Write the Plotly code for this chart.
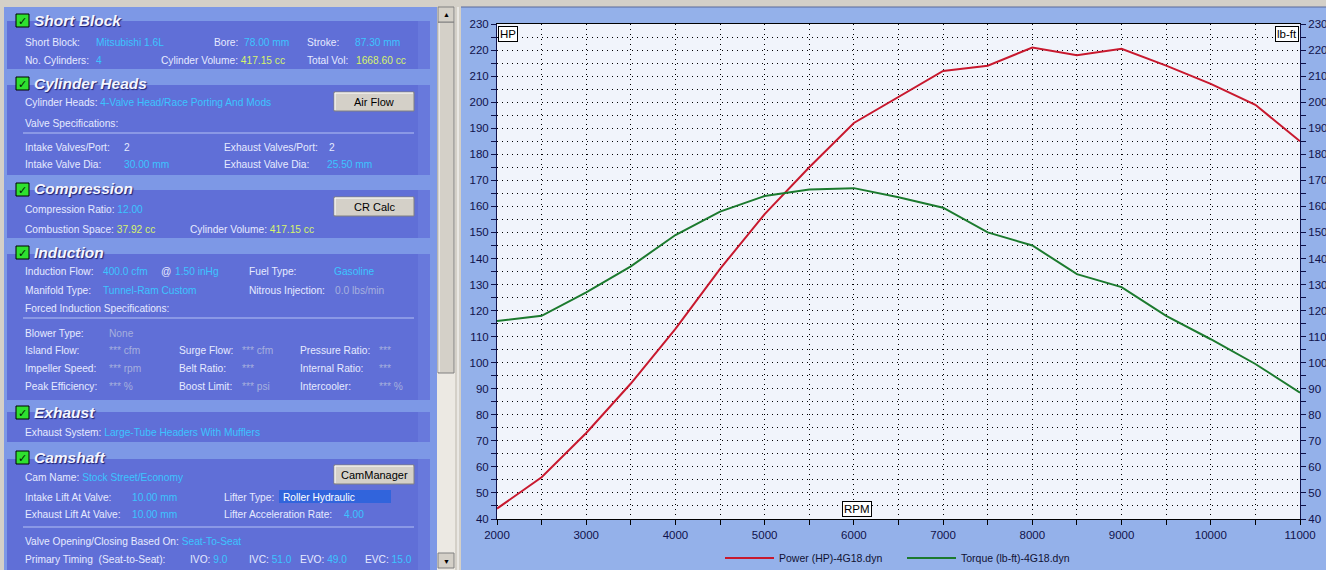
import plotly.graph_objects as go

# dyno curve (4G18.dyn)
rpm = [2000, 2500, 3000, 3500, 4000, 4500, 5000, 5500, 6000, 6500,
       7000, 7500, 8000, 8500, 9000, 9500, 10000, 10500, 11000]
power_hp = [44, 56, 73, 92, 113, 136, 157, 175, 192, 202,
            212, 214, 221, 218, 220.5, 214, 207, 199, 185]
torque_lbft = [116, 118, 127, 137, 149, 158, 164, 166.5, 167, 163.5,
               159.5, 150, 145, 134, 129, 118, 109, 99.5, 88.5]

x_ticks = [2000, 3000, 4000, 5000, 6000, 7000, 8000, 9000, 10000, 11000]
x_labels = [str(v) for v in x_ticks]
y_range = [40, 230]

W, H = 1326, 570


def fx(x):
    return x / W


def fy(y):
    return 1 - y / H


# colours of the old windows ui
GRAY = "#d4d0c8"
PANEL = "#7d98e6"
BOX = "#606fd7"
CHART_BG = "#94b1ea"
LBL = "#e6eaff"
CYAN = "#3cc4ff"
YEL = "#d6f36c"
DIM = "#a6b0de"
FONT = "Liberation Sans, Arial, sans-serif"

shapes = []
annotations = []


def rect(x0, y0, x1, y1, fill, line=None, lw=0):
    shapes.append(dict(type="rect", xref="paper", yref="paper", layer="below",
                       x0=fx(x0), x1=fx(x1), y0=fy(y1), y1=fy(y0),
                       fillcolor=fill, line=dict(color=line or fill, width=lw)))


def hline(x0, x1, y, color, w=1):
    shapes.append(dict(type="line", xref="paper", yref="paper", layer="below",
                       x0=fx(x0), x1=fx(x1), y0=fy(y), y1=fy(y),
                       line=dict(color=color, width=w)))


def vline(x, y0, y1, color, w=1):
    shapes.append(dict(type="line", xref="paper", yref="paper", layer="below",
                       x0=fx(x), x1=fx(x), y0=fy(y0), y1=fy(y1),
                       line=dict(color=color, width=w)))


def txt(x, y, s, color=LBL, size=10.2, anchor="left", **kw):
    annotations.append(dict(x=fx(x), y=fy(y), xref="paper", yref="paper",
                            text=s, showarrow=False, xanchor=anchor, yanchor="middle",
                            font=dict(family=FONT, size=size, color=color), **kw))


def pair(label, value, color):
    return label + " <span style='color:" + color + "'>" + value + "</span>"


# window frame
rect(0, 0, 461, 570, GRAY)
rect(0, 0, 1326, 7, GRAY)
hline(461, 1326, 7, "#5a6a9a")
vline(458, 7, 570, "#ffffff")
rect(4, 7, 437, 570, PANEL)

# section boxes
boxes = [(21, 69), (85, 175), (190, 238), (254, 400), (412, 442), (459, 570)]
for y0, y1 in boxes:
    rect(7, y0, 430, y1, BOX)
    rect(418, y0, 430, y1, "#6879dc")

# headers with checkboxes
headers = [(20, "Short Block"), (83, "Cylinder Heads"), (189, "Compression"),
           (252, "Induction"), (412, "Exhaust"), (457, "Camshaft")]
for yc, name in headers:
    rect(16, yc - 6, 29, yc + 7, "#2fe02f", "#000000", 1)
    txt(22.5, yc + 1, "✓", color="#002200", size=11, anchor="center")
    annotations.append(dict(x=fx(32), y=fy(yc), xref="paper", yref="paper",
                            text="<b><i>" + name + "</i></b>", showarrow=False,
                            xanchor="left", yanchor="middle",
                            font=dict(family=FONT, size=15.5, color="#f4f6ff",
                                      shadow="1px 1px 1px #1c2070")))

# separators
for ys in [133, 318, 527]:
    hline(23, 414, ys, "#b4c2f4")

# buttons
for y0, label in [(92, "Air Flow"), (197, "CR Calc"), (465, "CamManager")]:
    rect(334, y0, 414, y0 + 19, GRAY, "#808080", 1)
    hline(335, 413, y0 + 1, "#ffffff")
    vline(335, y0 + 1, y0 + 18, "#ffffff")
    txt(374, y0 + 10, label, color="#000000", size=11, anchor="center")

# lifter type field highlight
rect(279, 490, 391, 503, "#3164dc")

rows = [
    # short block
    (23, 42, "Short Block:", LBL), (94, 42, "Mitsubishi 1.6L", CYAN),
    (212, 42, "Bore:", LBL), (242, 42, "78.00 mm", CYAN),
    (305, 42, "Stroke:", LBL), (353, 42, "87.30 mm", CYAN),
    (23, 60, "No. Cylinders:", LBL), (94, 60, "4", CYAN),
    (159, 60, pair("Cylinder Volume:", "417.15 cc", YEL), LBL),
    (305, 60, "Total Vol:", LBL), (354, 60, "1668.60 cc", YEL),
    # cylinder heads
    (23, 102, pair("Cylinder Heads:", "4-Valve Head/Race Porting And Mods", CYAN), LBL),
    (23, 123, "Valve Specifications:", LBL),
    (23, 147, "Intake Valves/Port:", LBL), (122, 147, "2", LBL),
    (222, 147, "Exhaust Valves/Port:", LBL), (327, 147, "2", LBL),
    (23, 164, "Intake Valve Dia:", LBL), (122, 164, "30.00 mm", CYAN),
    (222, 164, "Exhaust Valve Dia:", LBL), (325, 164, "25.50 mm", CYAN),
    # compression
    (23, 209, pair("Compression Ratio:", "12.00", CYAN), LBL),
    (23, 229, pair("Combustion Space:", "37.92 cc", YEL), LBL),
    (188, 229, pair("Cylinder Volume:", "417.15 cc", YEL), LBL),
    # induction
    (23, 272, "Induction Flow:", LBL), (101, 272, "400.0 cfm", CYAN),
    (159, 272, "@", LBL), (173, 272, "1.50 inHg", CYAN),
    (247, 272, "Fuel Type:", LBL), (332, 272, "Gasoline", CYAN),
    (23, 290, "Manifold Type:", LBL), (101, 290, "Tunnel-Ram Custom", CYAN),
    (247, 290, "Nitrous Injection:", LBL), (333, 290, "0.0 lbs/min", DIM),
    (23, 308, "Forced Induction Specifications:", LBL),
    (23, 333, "Blower Type:", LBL), (107, 333, "None", DIM),
    (23, 350, "Island Flow:", LBL), (107, 350, "*** cfm", DIM),
    (177, 350, "Surge Flow:", LBL), (240, 350, "*** cfm", DIM),
    (298, 350, "Pressure Ratio:", LBL), (377, 350, "***", DIM),
    (23, 368, "Impeller Speed:", LBL), (107, 368, "*** rpm", DIM),
    (177, 368, "Belt Ratio:", LBL), (240, 368, "***", DIM),
    (298, 368, "Internal Ratio:", LBL), (377, 368, "***", DIM),
    (23, 386, "Peak Efficiency:", LBL), (107, 386, "*** %", DIM),
    (177, 386, "Boost Limit:", LBL), (240, 386, "*** psi", DIM),
    (298, 386, "Intercooler:", LBL), (377, 386, "*** %", DIM),
    # exhaust
    (23, 432, pair("Exhaust System:", "Large-Tube Headers With Mufflers", CYAN), LBL),
    # camshaft
    (23, 477, pair("Cam Name:", "Stock Street/Economy", CYAN), LBL),
    (23, 497, "Intake Lift At Valve:", LBL), (130, 497, "10.00 mm", CYAN),
    (222, 497, "Lifter Type:", LBL), (281, 497, "Roller Hydraulic", "#ffffff"),
    (23, 514, "Exhaust Lift At Valve:", LBL), (130, 514, "10.00 mm", CYAN),
    (222, 514, "Lifter Acceleration Rate:", LBL), (342, 514, "4.00", CYAN),
    (23, 541, pair("Valve Opening/Closing Based On:", "Seat-To-Seat", CYAN), LBL),
    (23, 559, "Primary Timing  (Seat-to-Seat):", LBL),
    (188, 559, pair("IVO:", "9.0", CYAN), LBL),
    (247, 559, pair("IVC:", "51.0", CYAN), LBL),
    (298, 559, pair("EVO:", "49.0", CYAN), LBL),
    (363, 559, pair("EVC:", "15.0", CYAN), LBL),
]
for x, y, s, c in rows:
    txt(x, y, s, color=c)

# scrollbar
rect(437, 7, 455, 570, "#ece9e3")
rect(438, 22, 454, 373, GRAY, "#808080", 1)
vline(439, 23, 372, "#ffffff")
for y0, glyph in [(7, "▲"), (553, "▼")]:
    rect(438, y0, 454, y0 + 15, GRAY, "#808080", 1)
    txt(446, y0 + 8, glyph, color="#000000", size=7, anchor="center")

# chart panel
plot_x = [497, 1300]
plot_y = [24, 519]
axis_font = dict(family=FONT, size=11.5, color="#10124a")
grid_dash = "1px,4px"

fig = go.Figure()
fig.add_trace(go.Scatter(x=rpm, y=power_hp, mode="lines", name="Power (HP)-4G18.dyn",
                         line=dict(color="#c8192e", width=2)))
fig.add_trace(go.Scatter(x=rpm, y=torque_lbft, mode="lines", name="Torque (lb-ft)-4G18.dyn",
                         line=dict(color="#1c7a2e", width=2), yaxis="y2"))

# axis unit boxes
for x, y, s in [(508, 34, "HP"), (1287, 34, "lb-ft"), (857, 509, "RPM")]:
    annotations.append(dict(x=fx(x), y=fy(y), xref="paper", yref="paper", text=s,
                            showarrow=False, xanchor="center", yanchor="middle",
                            bgcolor="#ffffff", bordercolor="#000000", borderwidth=1,
                            borderpad=1, font=dict(family=FONT, size=11.5, color="#000000")))

fig.update_layout(
    width=W, height=H,
    margin=dict(l=0, r=0, t=0, b=0, autoexpand=False),
    paper_bgcolor=CHART_BG,
    plot_bgcolor="#f1f4fb",
    shapes=shapes,
    annotations=annotations,
    showlegend=True,
    legend=dict(orientation="h", x=fx(720), xanchor="left", y=fy(558), yanchor="middle",
                bgcolor="rgba(0,0,0,0)", entrywidth=118, entrywidthmode="pixels",
                font=dict(family=FONT, size=10.5, color="#111133"), itemwidth=49),
    xaxis=dict(domain=[fx(plot_x[0]), fx(plot_x[1])], range=[2000, 11000],
               tickvals=x_ticks, ticktext=x_labels, ticks="outside", ticklen=5,
               tickcolor="#000000", tickfont=axis_font, showline=True, linecolor="#000000",
               linewidth=1, mirror=True, showgrid=True, gridcolor="#000000",
               griddash=grid_dash, gridwidth=1, zeroline=False, automargin=False,
               minor=dict(dtick=500, tick0=2000, ticks="outside", ticklen=5,
                          tickcolor="#000000", showgrid=True, gridcolor="#000000",
                          griddash=grid_dash)),
    yaxis=dict(domain=[fy(plot_y[1]), fy(plot_y[0])], range=y_range, dtick=10, tick0=40,
               ticks="outside", ticklen=5, tickcolor="#10124a", tickfont=axis_font,
               showline=True, linecolor="#10124a", linewidth=1, showgrid=True,
               gridcolor="#000000", griddash=grid_dash, zeroline=False, automargin=False,
               minor=dict(dtick=5, ticks="outside", ticklen=5, tickcolor="#10124a",
                          showgrid=True, gridcolor="#000000", griddash=grid_dash)),
    yaxis2=dict(overlaying="y", side="right", range=y_range, dtick=10, tick0=40,
                ticks="outside", ticklen=5, tickcolor="#10124a", tickfont=axis_font,
                showline=True, linecolor="#10124a", linewidth=1, showgrid=False,
                zeroline=False, automargin=False,
                minor=dict(dtick=5, ticks="outside", ticklen=5, tickcolor="#10124a")),
)

fig.write_html("out.html", config={"displayModeBar": False},
               post_script="document.body.style.margin='0';"
                           "document.body.style.overflow='hidden';")
